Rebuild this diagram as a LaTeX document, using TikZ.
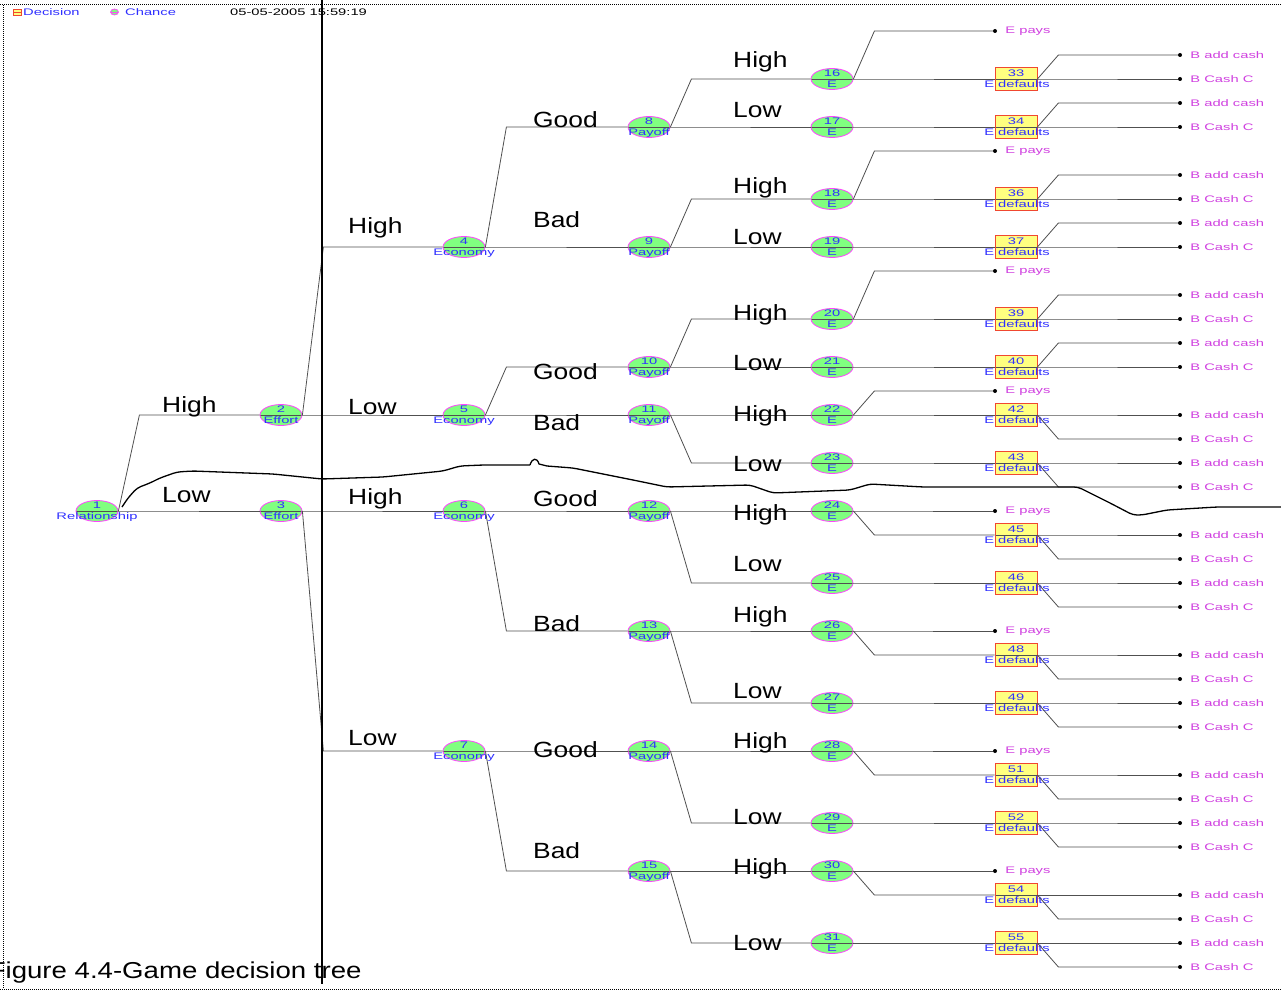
\documentclass[tikz,border=0pt]{standalone}
\usepackage{fontspec}
\setmainfont{Liberation Sans}[FakeStretch=1.2]
\newfontfamily\pixfont{Liberation Sans}[FakeStretch=1.55]
\usetikzlibrary{shapes.geometric, calc}
\definecolor{chancefill}{HTML}{80FF80}
\definecolor{chancedraw}{HTML}{FF44FF}
\definecolor{decfill}{HTML}{FFFF80}
\definecolor{decdraw}{HTML}{F04830}
\definecolor{nodetext}{HTML}{3030FF}
\definecolor{termtext}{HTML}{D040E0}
\definecolor{linegray}{HTML}{505050}

\begin{document}
\begin{tikzpicture}[x=1pt, y=-1pt,
    every node/.style={font=\pixfont\fontsize{9.5}{10}\selectfont},
    branchlabel/.style={font=\normalfont\fontsize{22}{24}\selectfont, anchor=base west, inner sep=0pt},
    midline/.style={path picture={\draw[#1, line width=0.6pt] (path picture bounding box.west) -- (path picture bounding box.east);}},
    midline/.default=linegray,
    chance/.style={ellipse, draw=chancedraw, fill=chancefill, line width=0.8pt, minimum width=42pt, minimum height=21pt, inner sep=0pt, midline},
    decision/.style={rectangle, draw=decdraw, fill=decfill, line width=0.8pt, minimum width=42pt, minimum height=23pt, inner sep=0pt, midline},
    num/.style={text=nodetext, inner sep=0pt, text height=6.8pt, text depth=0pt, yshift=5.5pt},
    sub/.style={text=nodetext, inner sep=0pt, text height=6.8pt, text depth=0pt, yshift=-4.8pt},
    endpt/.style={circle, fill=black, inner sep=0pt, minimum size=4pt},
    tlabel/.style={text=termtext, inner sep=0pt, xshift=8pt},
    conn/.style={draw=linegray, line width=0.8pt},
    branch/.style={to path={let \p1=(\tikztostart), \p2=(\tikztotarget) in -- (\x1+21pt,\y2) -- (\tikztotarget)}},
]
\path[use as bounding box, fill=white] (0,0) rectangle (1281,992);
% frame and header
\draw[densely dotted, line width=1pt] (0,5) -- (1281,5);
\draw[densely dotted, line width=1pt] (3,5) -- (3,989);
\draw[densely dotted, line width=1pt] (0,989) -- (1281,989);
\node[decision, minimum width=8pt, minimum height=6pt, line width=0.7pt, midline=decdraw] (legdec) at (17,12) {};
\node[anchor=west, text=nodetext, inner sep=0pt] (legdectxt) at (23,12) {Decision};
\node[chance, minimum width=8pt, minimum height=6pt, line width=0.7pt, midline=chancedraw] (legch) at (114.5,12) {};
\node[anchor=west, text=nodetext, inner sep=0pt] (legchtxt) at (125,12) {Chance};
\node[anchor=west, inner sep=0pt] (stamp) at (230,12) {05-05-2005 15:59:19};

% chance nodes
\node[chance, label={[num]center:1}, label={[sub]center:Relationship}] (n1) at (97,511) {};
\node[chance, label={[num]center:2}, label={[sub]center:Effort}] (n2) at (281,415) {};
\node[chance, label={[num]center:3}, label={[sub]center:Effort}] (n3) at (281,511) {};
\foreach \id/\yy in {4/247, 5/415, 6/511, 7/751}
    \node[chance, label={[num]center:\id}, label={[sub]center:Economy}] (n\id) at (464,\yy) {};
\foreach \id/\yy in {8/127, 9/247, 10/367, 11/415, 12/511, 13/631, 14/751, 15/871}
    \node[chance, label={[num]center:\id}, label={[sub]center:Payoff}] (n\id) at (649,\yy) {};
\foreach \id/\yy in {16/79, 17/127, 18/199, 19/247, 20/319, 21/367, 22/415, 23/463,
                     24/511, 25/583, 26/631, 27/703, 28/751, 29/823, 30/871, 31/943}
    \node[chance, label={[num]center:\id}, label={[sub]center:E}] (n\id) at (832,\yy) {};

% branches
\foreach \from/\to in {1/2, 1/3, 2/4, 2/5, 3/6, 3/7, 4/8, 4/9, 5/10, 5/11, 6/12, 6/13, 7/14, 7/15,
                       8/16, 8/17, 9/18, 9/19, 10/20, 10/21, 11/22, 11/23, 12/24, 12/25,
                       13/26, 13/27, 14/28, 14/29, 15/30, 15/31}
    \draw[conn] (n\from.east) to[branch] (n\to.west);

% E pays
\foreach \eid/\py in {16/31, 18/151, 20/271, 22/391, 24/511, 26/631, 28/751, 30/871} {
    \node[endpt, label={[tlabel]right:E pays}] (p\eid) at (995,\py) {};
    \draw[conn] (n\eid.east) to[branch] (p\eid);
}
% E defaults -> B
\foreach \eid/\did/\dy/\ay/\cy in {16/33/79/55/79, 17/34/127/103/127, 18/36/199/175/199, 19/37/247/223/247,
        20/39/319/295/319, 21/40/367/343/367, 22/42/415/415/439, 23/43/463/463/487,
        24/45/535/535/559, 25/46/583/583/607, 26/48/655/655/679, 27/49/703/703/727,
        28/51/775/775/799, 29/52/823/823/847, 30/54/895/895/919, 31/55/943/943/967} {
    \node[decision, label={[num]center:\did}, label={[sub, xshift=1pt]center:E defaults}] (d\did) at (1016,\dy) {};
    \node[endpt, label={[tlabel]right:B add cash}] (a\did) at (1180,\ay) {};
    \node[endpt, label={[tlabel]right:B Cash C}] (c\did) at (1180,\cy) {};
    \draw[conn] (n\eid.east) to[branch] (d\did.west);
    \draw[conn] (d\did.east) to[branch] (a\did);
    \draw[conn] (d\did.east) to[branch] (c\did);
}

% branch labels
\node[branchlabel] (lb1a) at (162,412) {High};
\node[branchlabel] (lb1b) at (162,502) {Low};
\node[branchlabel] (lb2a) at (348,234) {High};
\node[branchlabel] (lb2b) at (348,414) {Low};
\node[branchlabel] (lb3a) at (348,504) {High};
\node[branchlabel] (lb3b) at (348,745) {Low};
\node[branchlabel] (lb4a) at (533,128) {Good};
\node[branchlabel] (lb4b) at (533,228) {Bad};
\node[branchlabel] (lb5a) at (533,379) {Good};
\node[branchlabel] (lb5b) at (533,430) {Bad};
\node[branchlabel] (lb6a) at (533,506) {Good};
\node[branchlabel] (lb6b) at (533,631) {Bad};
\node[branchlabel] (lb7a) at (533,757) {Good};
\node[branchlabel] (lb7b) at (533,858) {Bad};
\foreach \id/\hy/\ly in {8/68/118, 9/194/244, 10/320/370, 11/421/471, 12/520/571, 13/622/698, 14/748/824, 15/874/950} {
    \node[branchlabel] (lb\id a) at (733,\hy) {High};
    \node[branchlabel] (lb\id b) at (733,\ly) {Low};
}

% split lines
\draw[line width=1.6pt] (322,0) -- (322,984);
\draw[line width=1.3pt, rounded corners=4pt] (122,507) -- (128,498) -- (137,488) -- (150,483) -- (160,478)
    -- (177,472) -- (193,471) -- (273,474) -- (322,479) -- (383,477) -- (443,471) -- (460,466)
    -- (483,465) -- (530,465);
\draw[line width=1.3pt] (530,465) .. controls (532,458) and (537,457) .. (539,464) -- (547,466);
\draw[line width=1.3pt, rounded corners=4pt] (547,466) -- (573,468) -- (633,480) -- (667,487)
    -- (750,485) -- (773,493) -- (850,490) -- (870,484) -- (923,487) -- (1078,487) -- (1100,498)
    -- (1110,503) -- (1133,515) -- (1142,515) -- (1167,510) -- (1217,507) -- (1281,507);

\node[anchor=base west, font=\normalfont\fontsize{23}{25}\selectfont, inner sep=0pt] (caption) at (-11.4,978) {Figure 4.4-Game decision tree};
\end{tikzpicture}
\end{document}
